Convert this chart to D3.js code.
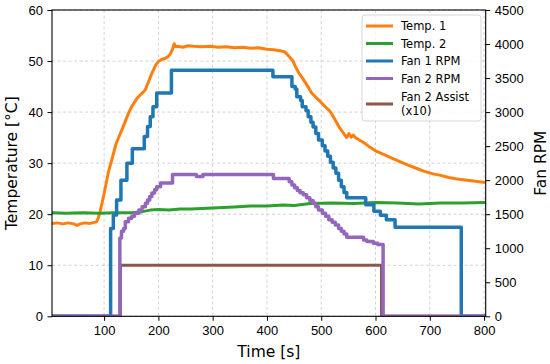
<!DOCTYPE html>
<html>
<head>
<meta charset="utf-8">
<script src="https://cdn.jsdelivr.net/npm/d3@7"></script>
<style>
  html, body { margin: 0; padding: 0; background: #fff; }
  svg { display: block; font-family: "DejaVu Sans", sans-serif; }
</style>
</head>
<body>
<div id="chart"></div>
<script>
// [time s, value] pairs
const temp1 = [[4,18.2],[14,18.3],[24,18.1],[34,18.3],[44,18.1],[50,17.8],[56,18.1],[64,18.3],[74,18.2],[82,18.4],[86,18.5],[89,19.2],[92,20.2],[100,24.0],[108,28.3],[115,31.0],[122,33.8],[135,37.1],[145,39.8],[151,41.1],[160,42.6],[166,43.3],[172,43.9],[176,44.4],[182,46.0],[188,47.6],[195,49.2],[200,49.9],[206,50.3],[212,50.5],[218,50.9],[222,51.4],[226,52.3],[229,53.4],[232,52.8],[236,52.9],[245,52.7],[255,53.0],[265,52.9],[280,52.8],[295,52.9],[310,52.7],[325,52.8],[340,52.6],[355,52.7],[370,52.5],[385,52.6],[400,52.3],[412,52.2],[424,52.0],[433,51.8],[440,51.0],[448,50.0],[452,49.0],[458,47.8],[467,46.4],[476,44.9],[482,43.8],[491,42.8],[497,42.2],[507,41.1],[516,40.2],[525,38.6],[534,36.9],[541,35.9],[547,35.0],[551,35.8],[555,35.1],[559,35.5],[563,35.0],[571,34.5],[580,33.9],[590,33.1],[602,32.3],[617,31.6],[630,31.0],[645,30.3],[660,29.6],[675,29.0],[690,28.4],[706,27.9],[720,27.6],[735,27.2],[750,26.9],[765,26.7],[780,26.5],[795,26.3],[803,26.2]];

const temp2 = [[4,20.3],[30,20.2],[60,20.3],[90,20.2],[120,20.3],[150,20.3],[170,20.5],[185,20.8],[200,20.9],[220,20.8],[240,21.0],[260,21.0],[300,21.2],[340,21.4],[370,21.6],[400,21.6],[430,21.8],[450,21.7],[480,22.1],[520,22.2],[560,22.1],[600,22.3],[640,22.2],[680,22.0],[720,22.2],[760,22.2],[803,22.3]];

const fan1 = [[4,0],[112,1290],[117,1490],[123,1710],[131,2000],[142,2250],[152,2460],[174,2640],[180,2790],[185,2930],[190,3080],[197,3280],[224,3615],[411,3520],[446,3375],[452,3340],[455,3225],[462,3170],[465,3080],[472,3020],[476,2930],[481,2850],[485,2780],[490,2685],[495,2590],[502,2505],[507,2430],[512,2350],[517,2265],[522,2180],[527,2100],[532,2000],[537,1905],[542,1820],[547,1740],[582,1640],[597,1545],[609,1485],[620,1420],[636,1310],[758,0],[803,0]];

const fan2 = [[4,0],[129,1150],[132,1250],[136,1290],[139,1390],[145,1440],[151,1470],[156,1515],[164,1560],[170,1610],[176,1660],[180,1710],[184,1760],[188,1810],[193,1860],[197,1905],[204,1960],[226,2085],[270,2055],[282,2085],[412,2025],[441,1975],[446,1930],[451,1890],[456,1850],[461,1815],[467,1785],[473,1740],[479,1700],[485,1660],[490,1610],[495,1560],[502,1515],[508,1470],[514,1420],[520,1380],[526,1340],[532,1290],[537,1250],[542,1210],[547,1160],[578,1120],[584,1100],[596,1075],[604,1055],[614,0],[803,0]];

// assist flag x10, plotted on the temperature axis
const assist = [[4,0],[130,0],[130,10],[611,10],[611,0],[803,0]];

const xTicks = [100, 200, 300, 400, 500, 600, 700, 800];
const tempTicks = [0, 10, 20, 30, 40, 50, 60];
const rpmTicks = [0, 500, 1000, 1500, 2000, 2500, 3000, 3500, 4000, 4500];
const legendLabels = ['Temp. 1', 'Temp. 2', 'Fan 1 RPM', 'Fan 2 RPM', 'Fan 2 Assist|(x10)'];

class FanTestChart {
    constructor(containerId) {
        this.containerId = containerId;
        this.dimensions = { width: 550, height: 364, left: 52, right: 485.7, top: 10, bottom: 316.3 };
        this.colors = {
            temp1: '#ff7f0e',
            temp2: '#2ca02c',
            fan1: '#1f77b4',
            fan2: '#9467bd',
            assist: '#8c564b'
        };
    }

    createChart() {
        const { width, height, left, right, top, bottom } = this.dimensions;

        const svg = d3.select(this.containerId)
            .append('svg')
            .attr('width', width)
            .attr('height', height);

        svg.append('defs').append('clipPath')
            .attr('id', 'plot-clip')
            .append('rect')
            .attr('x', left).attr('y', top)
            .attr('width', right - left).attr('height', bottom - top);

        const x = d3.scaleLinear().domain([4, 803]).range([left, right]);
        const yTemp = d3.scaleLinear().domain([0, 60]).range([bottom, top]);
        const yRpm = d3.scaleLinear().domain([0, 4500]).range([bottom, top]);

        // grid
        const grid = svg.append('g')
            .attr('stroke', '#b0b0b0')
            .attr('stroke-opacity', 0.7)
            .attr('stroke-width', 0.8)
            .attr('stroke-dasharray', '3,2.5');
        grid.selectAll('.vgrid').data(xTicks).enter().append('line')
            .attr('x1', d => x(d)).attr('x2', d => x(d))
            .attr('y1', top).attr('y2', bottom);
        grid.selectAll('.hgrid').data(tempTicks).enter().append('line')
            .attr('x1', left).attr('x2', right)
            .attr('y1', d => yTemp(d)).attr('y2', d => yTemp(d));

        const plot = svg.append('g').attr('clip-path', 'url(#plot-clip)');

        const lineTemp = d3.line().x(d => x(d[0])).y(d => yTemp(d[1]));
        const lineRpm = d3.line().x(d => x(d[0])).y(d => yRpm(d[1])).curve(d3.curveStepAfter);

        const drawLine = (data, gen, color, w) => {
            plot.append('path')
                .datum(data)
                .attr('d', gen)
                .attr('fill', 'none')
                .attr('stroke', color)
                .attr('stroke-width', w)
                .attr('stroke-linejoin', 'round');
        };

        drawLine(temp1, lineTemp, this.colors.temp1, 3);
        drawLine(temp2, lineTemp, this.colors.temp2, 3);
        drawLine(assist, lineTemp, this.colors.assist, 3);
        drawLine(fan1, lineRpm, this.colors.fan1, 3.5);
        drawLine(fan2, lineRpm, this.colors.fan2, 3.5);

        // axes
        const styleAxis = g => {
            g.select('.domain').remove();
            g.selectAll('line').attr('stroke', '#000').attr('stroke-width', 1);
            g.selectAll('text').attr('fill', '#000').style('font-size', '13px');
        };

        svg.append('g')
            .attr('transform', `translate(0, ${bottom})`)
            .call(d3.axisBottom(x).tickValues(xTicks).tickSize(4.5).tickPadding(4.5))
            .call(styleAxis);

        svg.append('g')
            .attr('transform', `translate(${left}, 0)`)
            .call(d3.axisLeft(yTemp).tickValues(tempTicks).tickSize(4.5).tickPadding(4.5))
            .call(styleAxis);

        svg.append('g')
            .attr('transform', `translate(${right}, 0)`)
            .call(d3.axisRight(yRpm).tickValues(rpmTicks).tickFormat(d3.format('d')).tickSize(4.5).tickPadding(4.5))
            .call(styleAxis);

        // spines
        svg.append('rect')
            .attr('x', left).attr('y', top)
            .attr('width', right - left).attr('height', bottom - top)
            .attr('fill', 'none')
            .attr('stroke', '#000')
            .attr('stroke-width', 1.1);

        // axis labels
        svg.append('text')
            .attr('x', (left + right) / 2)
            .attr('y', 357)
            .attr('text-anchor', 'middle')
            .style('font-size', '15.5px')
            .text('Time [s]');

        svg.append('text')
            .attr('transform', `translate(17, ${(top + bottom) / 2}) rotate(-90)`)
            .attr('text-anchor', 'middle')
            .style('font-size', '15.5px')
            .text('Temperature [°C]');

        svg.append('text')
            .attr('transform', `translate(546, ${(top + bottom) / 2}) rotate(-90)`)
            .attr('text-anchor', 'middle')
            .style('font-size', '15.5px')
            .text('Fan RPM');

        // legend
        const legend = svg.append('g');
        legend.append('rect')
            .attr('x', 362).attr('y', 15)
            .attr('width', 119).attr('height', 106)
            .attr('rx', 3)
            .attr('fill', '#fff').attr('fill-opacity', 0.8)
            .attr('stroke', '#d6d6d6');

        const legendColors = [this.colors.temp1, this.colors.temp2, this.colors.fan1, this.colors.fan2, this.colors.assist];
        const rowY = [26, 43.5, 61, 78.5, 104];
        legendLabels.forEach((label, i) => {
            legend.append('line')
                .attr('x1', 366).attr('x2', 393)
                .attr('y1', rowY[i]).attr('y2', rowY[i])
                .attr('stroke', legendColors[i])
                .attr('stroke-width', 3);
            const lines = label.split('|');
            const t = legend.append('text')
                .attr('x', 401)
                .style('font-size', '11.5px');
            lines.forEach((s, j) => {
                t.append('tspan')
                    .attr('x', 401)
                    .attr('y', rowY[i] - (lines.length - 1) * 6.7 + j * 13.4)
                    .attr('dy', '0.36em')
                    .text(s);
            });
        });
    }
}

const chart = new FanTestChart('#chart');
chart.createChart();
</script>
</body>
</html>
